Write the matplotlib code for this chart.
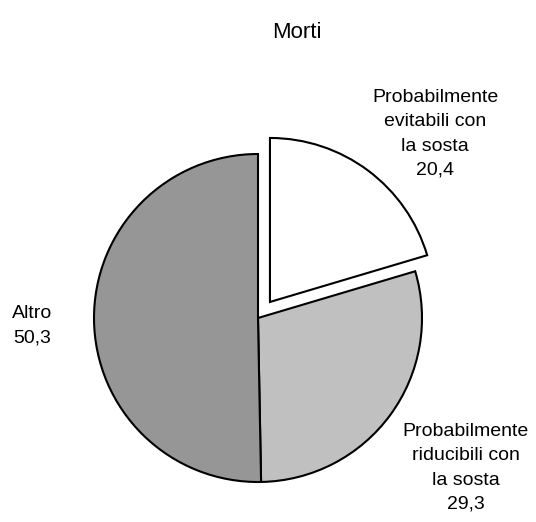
import matplotlib
matplotlib.use("Agg")
import matplotlib.pyplot as plt

plt.rcParams['font.family'] = ['Liberation Sans', 'DejaVu Sans']

# data
labels = ['Probabilmente\nevitabili con\nla sosta\n20,4',
          'Probabilmente\nriducibili con\nla sosta\n29,3',
          'Altro\n50,3']
values = [20.4, 29.3, 50.3]
colors = ['#FFFFFF', '#C0C0C0', '#969696']
title = 'Morti'

W, H = 536, 522
cx, cy, r = 258, 318, 164  # pie centre/radius in image pixels

fig = plt.figure(figsize=(W / 100, H / 100), dpi=100)
ax = fig.add_axes([0, 0, 1, 1])

ax.pie(values, colors=colors, startangle=90, counterclock=False,
       explode=[20 / r, 0, 0],
       wedgeprops=dict(edgecolor='black', linewidth=1.5))
ax.set_xlim(-cx / r, (W - cx) / r)
ax.set_ylim(-(H - cy) / r, cy / r)
ax.set_aspect('equal')
ax.axis('off')

# labels placed in pixel positions of the reference
pos = [(435, 134), (466, 468), (32, 326)]
for lab, (x, y) in zip(labels, pos):
    fig.text(x / W, 1 - y / H, lab, ha='center', va='center',
             fontsize=14, linespacing=1.55)

fig.text(297 / W, 1 - 33 / H, title, ha='center', va='center', fontsize=16)

fig.savefig('out.png', dpi=100)
